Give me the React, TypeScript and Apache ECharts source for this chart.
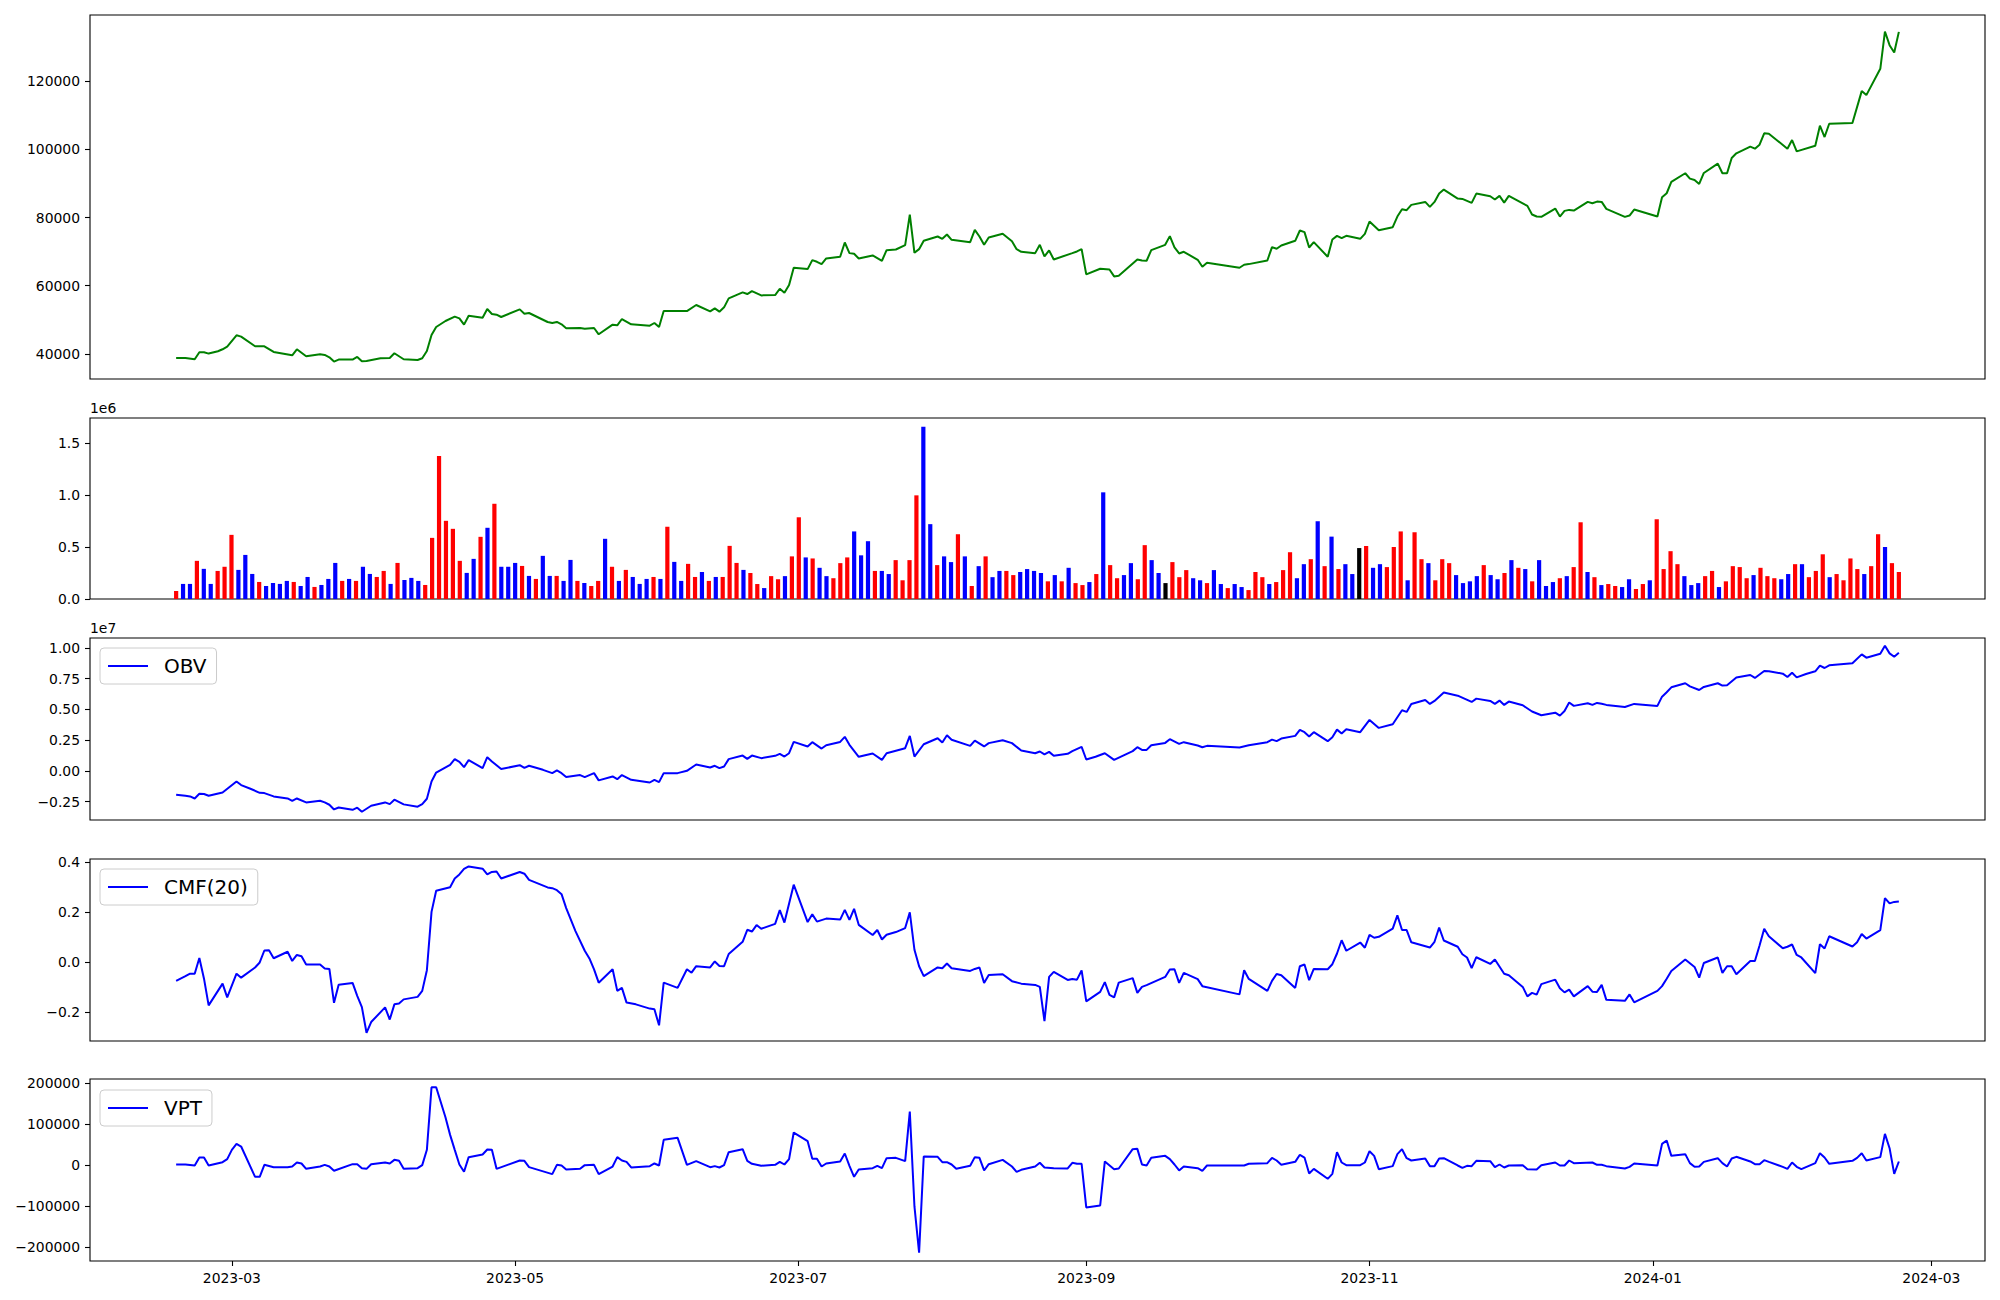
import React, { useEffect, useRef } from 'react';
import * as echarts from 'echarts';

// x positions of line data are days after 2023-03-01
const X_MIN = -30.55;
const X_MAX = 377.55;
const TICK_DAYS = [0, 61, 122, 184, 245, 306, 366];
const TICK_LABELS = ['2023-03', '2023-05', '2023-07', '2023-09', '2023-11', '2024-01', '2024-03'];

const PRICE_TICKS = [40000, 60000, 80000, 100000, 120000];
const VOLUME_TICKS = [0, 500000, 1000000, 1500000];
const OBV_TICKS = [-2500000, 0, 2500000, 5000000, 7500000, 10000000];
const CMF_TICKS = [-0.2, 0, 0.2, 0.4];
const VPT_TICKS = [-200000, -100000, 0, 100000, 200000];

// close price: [day, value]
const price: [number, number][] = [
  [-12, 38830], [-10, 38830], [-8, 38440], [-7, 40490], [-6, 40490], [-5, 40100], [-3, 40780], [-2, 41370], [-1, 42150], [1, 45460], [2, 45070], [5, 42240], [7, 42240], [9, 40590], [13, 39610], [14, 41370], [16, 39320], [19, 39900], [20, 39700], [21, 39020], [22, 37760], [23, 38340], [26, 38340], [27, 39120], [28, 37850], [29, 37950], [32, 38730], [34, 38830], [35, 40200], [37, 38440], [40, 38240], [41, 38730], [42, 40880], [43, 45560], [44, 47900], [46, 49660], [48, 50930], [49, 50440], [50, 48590], [51, 51220], [54, 50630], [55, 53170], [56, 51710], [57, 51510], [58, 50830], [62, 53070], [63, 51800], [64, 52000], [68, 49370], [69, 49070], [70, 49370], [71, 48680], [72, 47510], [75, 47610], [76, 47410], [78, 47610], [79, 45760], [82, 48590], [83, 48390], [84, 50240], [86, 48680], [90, 48290], [91, 49070], [92, 47900], [93, 52580], [98, 52580], [100, 54340], [103, 52490], [104, 53370], [105, 52390], [106, 53660], [107, 56290], [110, 58050], [111, 57560], [112, 58440], [114, 57170], [117, 57270], [118, 59120], [119, 57950], [120, 60200], [121, 65270], [124, 64880], [125, 67510], [126, 67020], [127, 66340], [128, 68000], [131, 68490], [132, 72680], [133, 69560], [134, 69370], [135, 68000], [138, 68880], [140, 67320], [141, 70440], [143, 70630], [145, 71900], [146, 80880], [147, 69660], [148, 70730], [149, 73170], [152, 74440], [153, 73760], [154, 75020], [155, 73460], [159, 72780], [160, 76390], [161, 74440], [162, 72000], [163, 74150], [166, 75220], [168, 73070], [169, 70730], [170, 69950], [173, 69560], [174, 72000], [175, 68590], [176, 70340], [177, 67710], [181, 69560], [182, 70050], [183, 70730], [184, 63320], [187, 64980], [189, 64780], [190, 62730], [191, 62930], [195, 67710], [196, 67410], [197, 67320], [198, 70440], [201, 72000], [202, 74540], [203, 71220], [204, 69460], [205, 69950], [208, 67610], [209, 65560], [210, 66730], [217, 65270], [218, 66150], [219, 66340], [223, 67410], [224, 71320], [225, 70830], [226, 71800], [229, 73170], [230, 76190], [231, 75710], [232, 71220], [233, 72780], [236, 68490], [237, 73560], [238, 74630], [239, 73950], [240, 74630], [243, 73760], [244, 75220], [245, 78830], [247, 76290], [250, 77170], [251, 80290], [252, 82440], [253, 82150], [254, 83710], [257, 84580], [258, 83120], [259, 84580], [260, 87020], [261, 88190], [264, 85560], [265, 85460], [267, 84290], [268, 87020], [271, 86240], [272, 85270], [273, 86340], [274, 84390], [275, 86340], [279, 83410], [280, 80880], [281, 80290], [282, 80200], [285, 82630], [286, 80290], [287, 81950], [288, 82240], [289, 82050], [292, 84580], [293, 84190], [294, 84680], [295, 84580], [296, 82540], [300, 80200], [301, 80580], [302, 82340], [307, 80290], [308, 85950], [309, 87120], [310, 90440], [313, 92980], [314, 91410], [315, 91020], [316, 89850], [317, 93070], [320, 95800], [321, 92980], [322, 92980], [323, 97460], [324, 98830], [327, 100780], [328, 100190], [329, 101370], [330, 104680], [331, 104580], [335, 100190], [336, 102730], [337, 99410], [341, 101070], [342, 106930], [343, 103610], [344, 107510], [349, 107710], [351, 117070], [352, 115900], [355, 123610], [356, 134540], [357, 130540], [358, 128390], [359, 134440],
];

// daily volume in thousands, one per trading day (250)
const volumeThousands = [
  77, 145, 145, 367, 290, 145, 270, 310, 617, 280,
  424, 241, 164, 125, 154, 145, 174, 164, 125, 212,
  116, 135, 193, 347, 174, 193, 174, 310, 241, 212,
  270, 145, 347, 183, 203, 174, 135, 588, 1375, 752,
  675, 367, 251, 386, 598, 685, 916, 310, 310, 347,
  318, 222, 193, 415, 222, 222, 174, 376, 174, 154,
  125, 174, 579, 310, 174, 280, 212, 145, 193, 212,
  193, 695, 357, 174, 338, 212, 260, 174, 212, 212,
  511, 347, 280, 250, 144, 105, 220, 190, 220, 410,
  786, 400, 390, 300, 220, 200, 345, 400, 650, 420,
  556, 270, 270, 240, 374, 180, 374, 997, 1658, 720,
  326, 410, 355, 623, 410, 125, 316, 410, 210, 270,
  270, 230, 260, 288, 270, 250, 170, 230, 170, 300,
  153, 134, 163, 240, 1026, 326, 200, 230, 345, 190,
  518, 374, 250, 153, 355, 210, 278, 200, 180, 153,
  278, 144, 105, 144, 115, 86, 260, 210, 144, 163,
  278, 450, 200, 335, 383, 748, 316, 600, 288, 335,
  240, 490, 510, 300, 335, 307, 500, 650, 180, 642,
  383, 345, 180, 383, 345, 230, 153, 170, 220, 326,
  230, 190, 250, 374, 300, 288, 170, 374, 125, 163,
  200, 220, 307, 738, 260, 210, 134, 144, 125, 115,
  190, 96, 144, 180, 767, 288, 460, 335, 220, 134,
  153, 220, 270, 115, 170, 316, 307, 200, 230, 300,
  220, 200, 190, 240, 335, 335, 210, 270, 430, 210,
  240, 180, 390, 288, 240, 316, 623, 500, 345, 260,
];

// r = close up, b = close down, k = unchanged
const volumeDirection = (
  'rbbrbbrrrb bbrbbbbrbb rbbbrbrbbr rbrbbbrrrr rrbbrbrbbb ' +
  'rbrbbrbbrb rrbrbrbbbr brbbrrbrbr rrbrrbrrbr rbrbbrrrbb ' +
  'brbbrrrrbb rbbrbrbrbb rrbbbbrbrb rrbrbrrbbr rbbkrrrbbr ' +
  'bbrbbrrrbr rrbbrbrbrb bkrbbrrrbr rbrrrbbbbr bbrbrbrbbb ' +
  'rbrrbrbrrb brrbrrrrbb brrbrrrrbr rrbbrbrrrb rrrrbrrbrr'
).replace(/ /g, '');

// OBV in units of 1e7: [day, value]
const obvE7: [number, number][] = [
  [-12, -0.195], [-10, -0.203], [-9, -0.208], [-8, -0.225], [-7, -0.187], [-6, -0.189], [-5, -0.203], [-2, -0.176], [1, -0.087], [2, -0.116], [4, -0.146], [6, -0.179], [7, -0.181], [9, -0.208], [12, -0.225], [13, -0.244], [14, -0.225], [16, -0.257], [19, -0.244], [20, -0.257], [21, -0.276], [22, -0.314], [23, -0.298], [26, -0.317], [27, -0.300], [28, -0.333], [30, -0.284], [33, -0.257], [34, -0.271], [35, -0.235], [37, -0.273], [40, -0.292], [41, -0.271], [42, -0.227], [43, -0.087], [44, -0.014], [47, 0.049], [48, 0.095], [49, 0.073], [50, 0.030], [51, 0.087], [54, 0.022], [55, 0.111], [56, 0.076], [58, 0.014], [62, 0.046], [63, 0.024], [64, 0.041], [67, 0.008], [69, -0.019], [70, 0.003], [71, -0.019], [72, -0.051], [75, -0.035], [76, -0.051], [78, -0.019], [79, -0.078], [82, -0.046], [83, -0.068], [84, -0.035], [86, -0.073], [90, -0.095], [91, -0.073], [92, -0.092], [93, -0.019], [96, -0.019], [98, 0.000], [100, 0.051], [103, 0.027], [104, 0.041], [105, 0.022], [106, 0.035], [107, 0.095], [110, 0.124], [111, 0.097], [112, 0.124], [114, 0.103], [117, 0.122], [118, 0.138], [119, 0.116], [120, 0.143], [121, 0.235], [124, 0.198], [125, 0.233], [127, 0.181], [128, 0.208], [131, 0.235], [132, 0.276], [133, 0.211], [135, 0.114], [138, 0.141], [140, 0.089], [141, 0.143], [145, 0.184], [146, 0.284], [147, 0.116], [149, 0.216], [152, 0.265], [153, 0.230], [154, 0.289], [155, 0.252], [159, 0.203], [160, 0.246], [162, 0.198], [163, 0.225], [166, 0.249], [168, 0.225], [170, 0.165], [173, 0.143], [174, 0.157], [175, 0.133], [176, 0.154], [177, 0.122], [180, 0.138], [181, 0.160], [183, 0.195], [184, 0.092], [186, 0.114], [188, 0.143], [190, 0.089], [194, 0.160], [195, 0.192], [196, 0.170], [197, 0.170], [198, 0.208], [201, 0.227], [202, 0.257], [204, 0.219], [205, 0.233], [208, 0.206], [209, 0.192], [210, 0.203], [217, 0.189], [219, 0.208], [223, 0.233], [224, 0.254], [225, 0.241], [226, 0.262], [229, 0.284], [230, 0.333], [231, 0.314], [232, 0.279], [233, 0.314], [236, 0.241], [237, 0.273], [238, 0.335], [239, 0.303], [240, 0.338], [243, 0.314], [245, 0.414], [247, 0.349], [250, 0.379], [252, 0.492], [253, 0.479], [254, 0.544], [257, 0.576], [258, 0.544], [259, 0.568], [261, 0.636], [264, 0.611], [267, 0.560], [268, 0.587], [271, 0.568], [272, 0.544], [273, 0.571], [274, 0.536], [275, 0.563], [278, 0.533], [280, 0.482], [282, 0.452], [285, 0.473], [286, 0.449], [287, 0.487], [288, 0.555], [289, 0.528], [292, 0.549], [293, 0.536], [294, 0.552], [295, 0.546], [296, 0.536], [300, 0.519], [302, 0.544], [307, 0.528], [308, 0.603], [309, 0.639], [310, 0.679], [313, 0.712], [314, 0.687], [316, 0.657], [317, 0.682], [320, 0.712], [321, 0.693], [322, 0.696], [324, 0.758], [327, 0.779], [328, 0.755], [330, 0.812], [331, 0.809], [334, 0.790], [335, 0.763], [336, 0.798], [337, 0.760], [339, 0.787], [341, 0.809], [342, 0.855], [343, 0.836], [344, 0.858], [349, 0.874], [351, 0.947], [352, 0.920], [355, 0.952], [356, 1.017], [357, 0.955], [358, 0.928], [359, 0.960],
];

// Chaikin money flow (20): [day, value]
const cmf20: [number, number][] = [
  [-12, -0.075], [-10, -0.056], [-9, -0.046], [-8, -0.046], [-7, 0.017], [-6, -0.066], [-5, -0.173], [-2, -0.086], [-1, -0.141], [1, -0.046], [2, -0.062], [5, -0.021], [6, -0.001], [7, 0.047], [8, 0.048], [9, 0.016], [12, 0.042], [13, 0.005], [14, 0.029], [15, 0.024], [16, -0.009], [19, -0.009], [20, -0.025], [21, -0.027], [22, -0.163], [23, -0.090], [26, -0.083], [27, -0.135], [28, -0.180], [29, -0.283], [30, -0.240], [33, -0.181], [34, -0.230], [35, -0.169], [36, -0.166], [37, -0.149], [40, -0.139], [41, -0.115], [42, -0.032], [43, 0.202], [44, 0.287], [47, 0.301], [48, 0.336], [49, 0.352], [50, 0.374], [51, 0.384], [54, 0.375], [55, 0.352], [56, 0.362], [57, 0.364], [58, 0.336], [62, 0.362], [63, 0.355], [64, 0.330], [68, 0.300], [69, 0.297], [70, 0.289], [71, 0.273], [72, 0.217], [74, 0.125], [76, 0.046], [77, 0.015], [78, -0.029], [79, -0.082], [82, -0.028], [83, -0.115], [84, -0.103], [85, -0.162], [87, -0.169], [90, -0.186], [91, -0.189], [92, -0.253], [93, -0.082], [96, -0.103], [98, -0.028], [99, -0.042], [100, -0.016], [103, -0.021], [104, 0.003], [105, -0.015], [106, -0.016], [107, 0.033], [110, 0.082], [111, 0.130], [112, 0.123], [113, 0.149], [114, 0.134], [117, 0.154], [118, 0.209], [119, 0.159], [121, 0.311], [124, 0.161], [125, 0.192], [126, 0.163], [128, 0.175], [131, 0.171], [132, 0.210], [133, 0.170], [134, 0.214], [135, 0.150], [138, 0.109], [139, 0.129], [140, 0.091], [141, 0.110], [143, 0.121], [145, 0.137], [146, 0.200], [147, 0.050], [148, -0.016], [149, -0.056], [152, -0.021], [153, -0.024], [154, -0.005], [155, -0.024], [159, -0.035], [160, -0.027], [161, -0.021], [162, -0.083], [163, -0.051], [166, -0.048], [168, -0.076], [170, -0.086], [173, -0.091], [174, -0.099], [175, -0.236], [176, -0.059], [177, -0.039], [180, -0.071], [181, -0.067], [182, -0.070], [183, -0.033], [184, -0.157], [187, -0.119], [188, -0.080], [189, -0.131], [190, -0.141], [191, -0.082], [194, -0.064], [195, -0.123], [196, -0.099], [197, -0.092], [201, -0.059], [202, -0.029], [203, -0.028], [204, -0.083], [205, -0.043], [208, -0.068], [209, -0.096], [217, -0.129], [218, -0.032], [219, -0.067], [223, -0.115], [224, -0.075], [225, -0.047], [226, -0.052], [229, -0.103], [230, -0.016], [231, -0.009], [232, -0.072], [233, -0.027], [236, -0.028], [237, -0.008], [238, 0.035], [239, 0.088], [240, 0.046], [243, 0.079], [244, 0.058], [245, 0.110], [246, 0.098], [247, 0.102], [250, 0.135], [251, 0.188], [252, 0.129], [253, 0.129], [254, 0.080], [258, 0.059], [259, 0.082], [260, 0.139], [261, 0.087], [264, 0.062], [265, 0.032], [266, 0.019], [267, -0.024], [268, 0.020], [271, -0.007], [272, 0.011], [274, -0.046], [275, -0.052], [278, -0.099], [279, -0.137], [280, -0.123], [281, -0.130], [282, -0.088], [285, -0.070], [286, -0.104], [287, -0.121], [288, -0.110], [289, -0.137], [292, -0.096], [293, -0.118], [294, -0.119], [295, -0.091], [296, -0.151], [300, -0.155], [301, -0.129], [302, -0.161], [307, -0.115], [308, -0.096], [309, -0.066], [310, -0.035], [313, 0.011], [315, -0.019], [316, -0.062], [317, -0.003], [320, 0.019], [321, -0.043], [322, -0.016], [323, -0.016], [324, -0.048], [327, 0.005], [328, 0.005], [329, 0.067], [330, 0.134], [331, 0.104], [334, 0.056], [335, 0.062], [336, 0.071], [337, 0.029], [338, 0.019], [341, -0.044], [342, 0.072], [343, 0.055], [344, 0.104], [349, 0.063], [350, 0.080], [351, 0.113], [352, 0.095], [355, 0.129], [356, 0.257], [357, 0.236], [358, 0.242], [359, 0.244],
];

// volume price trend: [day, value]
const vpt: [number, number][] = [
  [-12, 1600], [-10, 1600], [-8, -800], [-7, 18700], [-6, 18700], [-5, -800], [-2, 7300], [-1, 14700], [0, 37500], [1, 52100], [2, 45600], [5, -28500], [6, -28500], [7, 800], [9, -4900], [12, -4900], [13, -3300], [14, 6500], [15, 4100], [16, -9000], [19, -3300], [20, 800], [21, -3300], [22, -13800], [26, 2400], [27, 2400], [28, -7300], [29, -9000], [30, 2400], [33, 6500], [34, 4100], [35, 13000], [36, 10600], [37, -9000], [40, -7300], [41, 0], [42, 37500], [43, 190600], [44, 190600], [46, 117300], [47, 74100], [48, 37500], [49, 1600], [50, -16300], [51, 19600], [54, 26100], [55, 38300], [56, 37500], [57, -9000], [62, 11400], [63, 10600], [64, -4900], [69, -22000], [70, 800], [71, -800], [72, -10600], [75, -9000], [76, 0], [78, 800], [79, -22000], [82, -3300], [83, 19600], [84, 11400], [85, 8100], [86, -5700], [90, -2400], [91, 4100], [92, -800], [93, 61900], [96, 66800], [98, 800], [100, 9800], [103, -4900], [104, -2400], [105, -5700], [106, 0], [107, 31800], [110, 39100], [111, 10600], [112, 3300], [114, -1600], [117, 800], [118, 8100], [119, 1600], [120, 14700], [121, 79800], [124, 58700], [125, 15500], [126, 15500], [127, -3300], [128, 4100], [131, 9000], [132, 28500], [133, -1600], [134, -28500], [135, -10600], [138, -7300], [139, -1600], [140, -7300], [141, 17100], [143, 17900], [145, 9800], [146, 131200], [147, -101000], [148, -214300], [149, 21200], [152, 20400], [153, 7300], [154, 7300], [155, 1600], [156, -9000], [159, -1600], [160, 19600], [161, 17900], [162, -13000], [163, 2400], [166, 13000], [168, -3300], [169, -16300], [170, -11400], [173, -3300], [174, 5700], [175, -5700], [177, -7300], [180, -8100], [181, 5700], [182, 3300], [183, 3300], [184, -103500], [187, -98600], [188, 9000], [190, -9800], [191, -8100], [194, 39100], [195, 39900], [196, 1600], [197, -800], [198, 17900], [201, 22800], [202, 14700], [203, 1600], [204, -13000], [205, -3300], [208, -7300], [209, -13800], [210, -800], [218, -800], [219, 3300], [223, 4900], [224, 17900], [225, 11400], [226, 800], [229, 8100], [230, 25300], [231, 18700], [232, -20400], [233, -9000], [236, -33400], [237, -21200], [238, 31800], [239, 6500], [240, 0], [243, 0], [244, 6500], [245, 34200], [246, 22800], [247, -9800], [250, -2400], [251, 26900], [252, 39100], [253, 17100], [254, 11400], [257, 16300], [258, -2400], [259, -2400], [260, 16300], [261, 17100], [264, -800], [265, -6500], [266, -1600], [267, -2400], [268, 10600], [271, 9800], [272, -4900], [273, 1600], [274, -5700], [275, -800], [278, 0], [279, -9800], [281, -10600], [282, 0], [285, 6500], [286, -800], [287, -800], [288, 11400], [289, 4900], [293, 6500], [294, 800], [295, 800], [296, -2400], [300, -8100], [301, -4100], [302, 4100], [307, -800], [308, 52100], [309, 60300], [310, 22800], [313, 26900], [314, 4900], [315, -4100], [316, -3300], [317, 8100], [320, 17100], [321, 4900], [322, -3300], [323, 16300], [324, 20400], [327, 9000], [328, 2400], [329, 2400], [330, 12200], [331, 8100], [334, -4100], [335, -9000], [336, 6500], [337, -4100], [338, -9800], [341, 4900], [342, 29300], [343, 18700], [344, 3300], [349, 10600], [350, 17900], [351, 29300], [352, 11400], [355, 19600], [356, 76600], [357, 41500], [358, -21200], [359, 9000],
];

const FONT = 'DejaVu Sans';
const TICK_FONT = 13.9;
const DIR_COLORS: Record<string, string> = { r: '#ff0000', b: '#0000ff', k: '#000000' };
const uminus = (s: string) => s.replace('-', '\u2212');

function yAxis(gridIndex: number, min: number, max: number, ticks: number[], fmt: (v: number) => string) {
  return {
    type: 'value', gridIndex, min, max,
    axisLine: { show: false, onZero: false },
    splitLine: { show: false },
    axisTick: { show: true, customValues: ticks, length: 5, inside: false, lineStyle: { color: '#000', width: 1.1 } },
    axisLabel: { show: true, customValues: ticks, formatter: (v: number) => uminus(fmt(v)), margin: 10, color: '#000', fontSize: TICK_FONT, fontFamily: FONT },
  };
}

function dayAxis(gridIndex: number, labelled: boolean) {
  return {
    type: 'value', gridIndex, min: X_MIN, max: X_MAX,
    axisLine: { show: false, onZero: false },
    splitLine: { show: false },
    axisTick: labelled
      ? { show: true, customValues: TICK_DAYS, length: 5, lineStyle: { color: '#000', width: 1.1 } }
      : { show: false },
    axisLabel: labelled
      ? {
          show: true, customValues: TICK_DAYS, margin: 10, color: '#000', fontSize: TICK_FONT, fontFamily: FONT,
          formatter: (v: number) => TICK_LABELS[TICK_DAYS.indexOf(Math.round(v))] ?? '',
        }
      : { show: false },
  };
}

function legendFor(name: string, top: number) {
  return {
    data: [name], left: 100, top,
    icon: 'rect',
    backgroundColor: 'rgba(255,255,255,0.8)', borderColor: '#cccccc', borderWidth: 1, borderRadius: 4,
    padding: [8, 10, 8, 8], itemWidth: 40, itemHeight: 2.2, selectedMode: false,
    textStyle: { fontSize: 20, fontFamily: FONT, color: '#000', padding: [0, 0, 0, 11] },
  };
}

function lineSeries(name: string, idx: number, data: [number, number][], color: string) {
  return {
    type: 'line', name, xAxisIndex: idx, yAxisIndex: idx, data,
    symbol: 'none', showSymbol: false,
    lineStyle: { color, width: 2 }, itemStyle: { color },
  };
}

export default function App() {
  const ref = useRef<HTMLDivElement>(null);
  useEffect(() => {
    if (!ref.current) return;
    const chart = echarts.init(ref.current, null, { renderer: 'svg' });
    const panels = [
      { top: 15, height: 364 },
      { top: 418, height: 181 },
      { top: 638, height: 182 },
      { top: 859, height: 182 },
      { top: 1079, height: 182 },
    ];
    const grid = panels.map((p) => ({
      left: 90, width: 1895, top: p.top, height: p.height,
      show: true, borderColor: '#000', borderWidth: 1.1, backgroundColor: 'transparent',
    }));

    const volumeData = volumeThousands.map((v, i) => ({
      value: [i, v * 1000],
      itemStyle: { color: DIR_COLORS[volumeDirection[i]] },
    }));

    const option = {
      animation: false,
      backgroundColor: '#ffffff',
      grid,
      xAxis: [
        dayAxis(0, false),
        {
          type: 'value', gridIndex: 1, min: -12.45, max: 261.45,
          axisLine: { show: false, onZero: false }, splitLine: { show: false }, axisTick: { show: false }, axisLabel: { show: false },
        },
        dayAxis(2, false),
        dayAxis(3, false),
        dayAxis(4, true),
      ],
      yAxis: [
        yAxis(0, 32650, 139390, PRICE_TICKS, (v) => String(v)),
        yAxis(1, 0, 1741000, VOLUME_TICKS, (v) => (v / 1e6).toFixed(1)),
        yAxis(2, -4000000, 10800000, OBV_TICKS, (v) => (v / 1e7).toFixed(2)),
        yAxis(3, -0.316, 0.414, CMF_TICKS, (v) => v.toFixed(1)),
        yAxis(4, -234500, 210800, VPT_TICKS, (v) => String(v)),
      ],
      legend: [legendFor('OBV', 648), legendFor('CMF(20)', 869), legendFor('VPT', 1090)],
      graphic: [
        { type: 'text', left: 90, top: 401, style: { text: '1e6', fontSize: TICK_FONT, fontFamily: FONT, fill: '#000' } },
        { type: 'text', left: 90, top: 621, style: { text: '1e7', fontSize: TICK_FONT, fontFamily: FONT, fill: '#000' } },
      ],
      series: [
        lineSeries('Price', 0, price, '#008000'),
        { type: 'bar', name: 'Volume', xAxisIndex: 1, yAxisIndex: 1, barWidth: 4.2, data: volumeData },
        lineSeries('OBV', 2, obvE7.map(([d, v]) => [d, v * 1e7] as [number, number]), '#0000ff'),
        lineSeries('CMF(20)', 3, cmf20, '#0000ff'),
        lineSeries('VPT', 4, vpt, '#0000ff'),
      ],
    };
    chart.setOption(option as any);
    return () => chart.dispose();
  }, []);
  return <div ref={ref} style={{ position: 'fixed', left: 0, top: 0, width: 2000, height: 1300, background: '#fff' }} />;
}
